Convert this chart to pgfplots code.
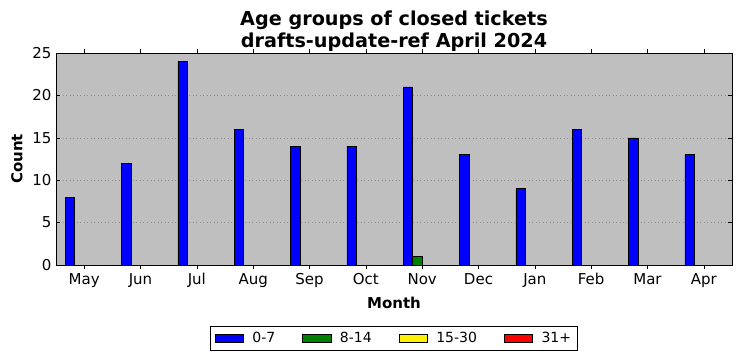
\documentclass[border=0pt]{standalone}
\usepackage{fontspec}
\setmainfont{DejaVu Sans}
\usepackage{pgfplots}
\pgfplotsset{compat=1.18}
\definecolor{bg}{RGB}{191,191,191}
\definecolor{mgreen}{RGB}{0,128,0}
\begin{document}
\begin{tikzpicture}
\path[use as bounding box] (-56pt,-96pt) rectangle (686pt,265pt);
\begin{axis}[
  at={(0,0)}, anchor=south west,
  scale only axis, width=676pt, height=212pt,
  xmin=-0.5, xmax=11.5, ymin=0, ymax=25,
  axis background/.style={fill=bg},
  xtick={0,...,11},
  xticklabels={May,Jun,Jul,Aug,Sep,Oct,Nov,Dec,Jan,Feb,Mar,Apr},
  ytick={0,5,10,15,20,25},
  tick pos=both, tick align=inside, major tick length=4pt,
  tick style={black, line width=0.6pt},
  ymajorgrids, major grid style={gray!90, line width=0.5pt, dash pattern=on 1pt off 2.5pt},
  /pgf/number format/assume math mode=true,
  tick label style={font=\fontsize{15}{18}\selectfont},
  xticklabel style={yshift=-1pt},
  yticklabel style={xshift=-1pt},
  xlabel={Month}, ylabel={Count},
  label style={font=\bfseries\fontsize{15}{18}\selectfont},
  xlabel style={yshift=-2pt},
  ylabel style={yshift=3pt},
  title={Age groups of closed tickets\\drafts-update-ref April 2024},
  title style={align=center, font=\bfseries\fontsize{19.2}{21.5}\selectfont, yshift=-8pt},
  axis line style={black, line width=0.8pt},
  ybar, bar width=0.168,
  legend columns=4,
  legend style={at={(0.5,-0.288)}, anchor=north, draw=black, fill=white,
    font=\fontsize{14}{16}\selectfont, line width=0.8pt,
    /tikz/every even column/.append style={column sep=25pt},
    inner xsep=4pt, inner ysep=4pt},
  legend image code/.code={\draw[#1, draw=black, line width=0.6pt] (0pt,-4pt) rectangle (28.5pt,4pt); \path (35pt,0pt);},
]
\addplot[fill=blue, draw=black, line width=0.6pt, bar shift=-0.252] coordinates {
(0,8) (1,12) (2,24) (3,16) (4,14) (5,14) (6,21) (7,13) (8,9) (9,16) (10,15) (11,13)};
\addplot[fill=mgreen, draw=black, line width=0.6pt, bar shift=-0.084] coordinates {
(0,0) (1,0) (2,0) (3,0) (4,0) (5,0) (6,1) (7,0) (8,0) (9,0) (10,0) (11,0)};
\addplot[fill=yellow, draw=black, line width=0.6pt, bar shift=0.084] coordinates {
(0,0) (1,0) (2,0) (3,0) (4,0) (5,0) (6,0) (7,0) (8,0) (9,0) (10,0) (11,0)};
\addplot[fill=red, draw=black, line width=0.6pt, bar shift=0.252] coordinates {
(0,0) (1,0) (2,0) (3,0) (4,0) (5,0) (6,0) (7,0) (8,0) (9,0) (10,0) (11,0)};
\legend{0-7,8-14,15-30,31+}
\end{axis}
\end{tikzpicture}
\end{document}
